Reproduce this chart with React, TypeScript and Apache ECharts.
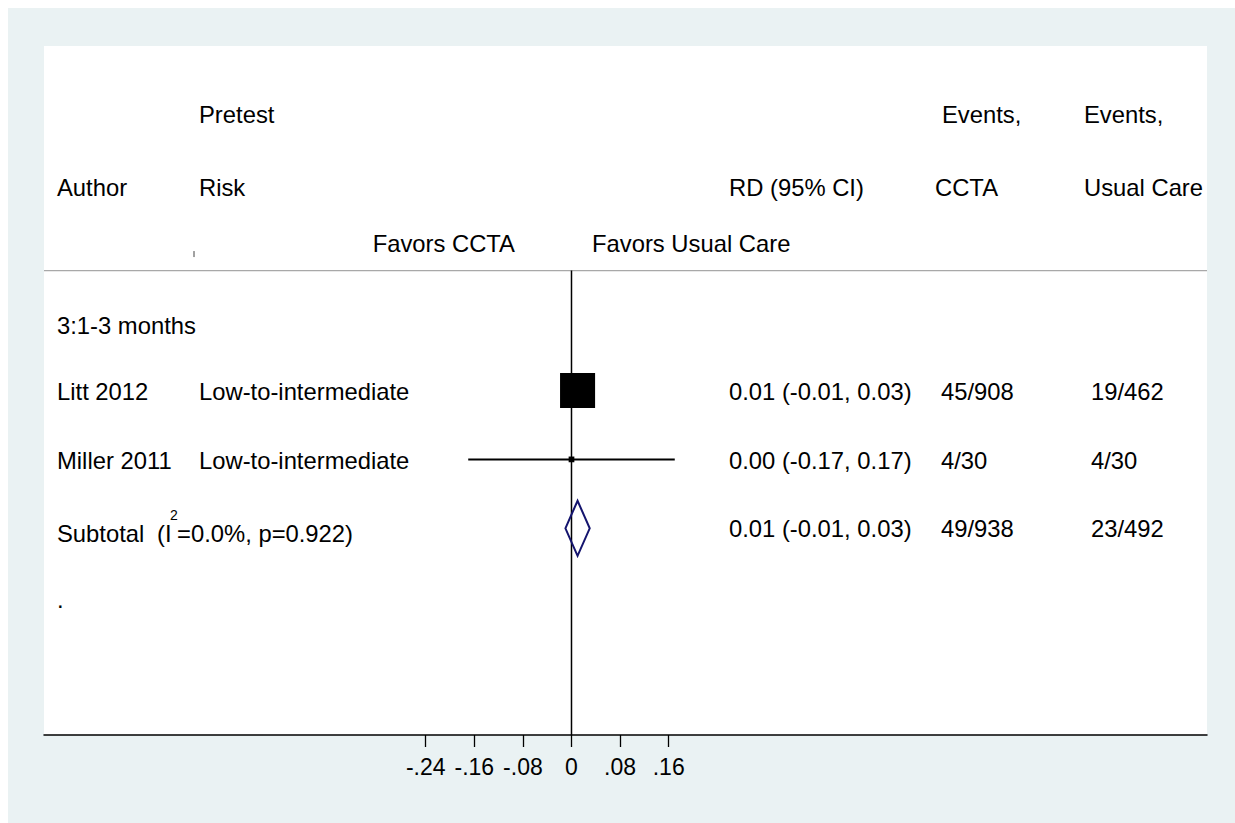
import React, { useEffect, useRef } from 'react';
import * as echarts from 'echarts';

// Study-level data
const studyAuthors = ['Litt 2012', 'Miller 2011'];
const studyRisk = ['Low-to-intermediate', 'Low-to-intermediate'];
const studyRd = [0.01, 0.0];
const studyLow = [-0.01, -0.17];
const studyHigh = [0.03, 0.17];
const studyWeight = [97.4, 2.6];
const eventsCcta = ['45/908', '4/30'];
const eventsCare = ['19/462', '4/30'];

// Pooled estimate for the subgroup
const subtotalRd = 0.01;
const subtotalLow = -0.01;
const subtotalHigh = 0.03;
const subtotalCcta = '49/938';
const subtotalCare = '23/492';
const subtotalLabel = ['Subtotal', '(I', '2', '=0.0%, p=0.922)'];

const sectionLabel = '3:1-3 months';
const headerTop = ['Pretest', 'Events,', 'Events,'];
const headerBottom = ['Author', 'Risk', 'RD (95% CI)', 'CCTA', 'Usual Care'];
const favorsLabels = ['Favors CCTA', 'Favors Usual Care'];
const tickValues = [-0.24, -0.16, -0.08, 0, 0.08, 0.16];

// Layout: rows in row units (y axis runs 0..10 downward)
const X_MIN = -0.8683;
const X_MAX = 1.0461;
const Y_MAX = 10;
const ROW_HEAD1 = 0.99;
const ROW_HEAD2 = 2.05;
const ROW_FAVORS = 2.86;
const ROW_RULE = 3.26;
const ROW_SECTION = 4.05;
const ROW_FIRST_STUDY = 5;
const ROW_SUBTOTAL = 7;
const ROW_DOT = 8.03;
const TEXT_NUDGE = 0.02;

const FONT = '"Liberation Sans", Arial, Helvetica, sans-serif';
const FONT_SIZE = 23.8;
const TICK_FONT_SIZE = 23;

// Column anchors in pixels
const COL_AUTHOR = 49;
const COL_RISK = 191;
const COL_RD = 721;
const COL_CCTA = 933;
const COL_CCTA_HEAD = 927;
const COL_CARE = 1083;
const COL_CARE_HEAD = 1076;
const COL_I2 = 149;
const FAVORS_LEFT_END = 507;
const FAVORS_RIGHT_START = 584;

const fmt = (v: number) => v.toFixed(2);
const rdText = (rd: number, lo: number, hi: number) => `${fmt(rd)} (${fmt(lo)}, ${fmt(hi)})`;
const tickText = (v: number) => {
  if (Math.abs(v) < 1e-9) return '0';
  const s = Math.abs(v).toFixed(2).replace(/^0/, '');
  return (v < 0 ? '-' : '') + s;
};

function txt(text: string, x: number, y: number, align: string = 'left', extra: any = {}) {
  return {
    type: 'text',
    x,
    y,
    silent: true,
    style: {
      text,
      fill: '#000',
      fontSize: FONT_SIZE,
      fontFamily: FONT,
      align,
      verticalAlign: 'middle',
      ...extra,
    },
  };
}

export default function App() {
  const ref = useRef<HTMLDivElement>(null);

  useEffect(() => {
    if (!ref.current) return;
    const chart = echarts.init(ref.current, null, { renderer: 'svg' });

    const studyRows = studyAuthors.map((_, i) => ROW_FIRST_STUDY + i);

    chart.setOption({
      animation: false,
      backgroundColor: '#EAF2F3',
      grid: {
        left: 36,
        right: 28,
        top: 38,
        bottom: 88,
        show: true,
        backgroundColor: '#ffffff',
        borderWidth: 0,
        outerBoundsMode: 'none',
      },
      xAxis: {
        type: 'value',
        min: X_MIN,
        max: X_MAX,
        position: 'bottom',
        splitLine: { show: false },
        axisLine: { show: true, onZero: false, lineStyle: { color: '#000', width: 1.5 } },
        axisTick: {
          show: true,
          customValues: tickValues,
          length: 12,
          lineStyle: { color: '#000', width: 1.3 },
        },
        axisLabel: {
          customValues: tickValues,
          formatter: (v: number) => tickText(v),
          fontSize: TICK_FONT_SIZE,
          fontFamily: FONT,
          color: '#000',
          margin: 20,
        },
      },
      yAxis: { type: 'value', min: 0, max: Y_MAX, inverse: true, show: false },
      series: [
        {
          type: 'line',
          silent: true,
          symbol: 'none',
          data: [
            [X_MIN, ROW_RULE],
            [X_MAX, ROW_RULE],
          ],
          lineStyle: { color: '#a8a8a8', width: 1.2 },
          z: 1,
        },
        {
          type: 'line',
          silent: true,
          symbol: 'none',
          data: [
            [0, ROW_RULE],
            [0, Y_MAX],
          ],
          lineStyle: { color: '#000', width: 1.5 },
          z: 2,
        },
        {
          type: 'custom',
          silent: true,
          z: 3,
          encode: { x: [0, 1], y: 2 },
          data: studyRows.map((r, i) => [studyLow[i], studyHigh[i], r]),
          renderItem: (_params: any, api: any) => {
            const p1 = api.coord([api.value(0), api.value(2)]);
            const p2 = api.coord([api.value(1), api.value(2)]);
            return {
              type: 'line',
              shape: { x1: p1[0], y1: p1[1], x2: p2[0], y2: p2[1] },
              style: { stroke: '#000', lineWidth: 2 },
            };
          },
        },
        {
          type: 'scatter',
          silent: true,
          z: 4,
          symbol: 'rect',
          symbolSize: (v: number[]) => Math.sqrt(v[2]) * 3.55,
          itemStyle: { color: '#000', opacity: 1 },
          data: studyRows.map((r, i) => [studyRd[i], r, studyWeight[i]]),
        },
        {
          type: 'custom',
          silent: true,
          z: 5,
          encode: { x: [0, 1, 2], y: 3 },
          data: [[subtotalLow, subtotalRd, subtotalHigh, ROW_SUBTOTAL]],
          renderItem: (_params: any, api: any) => {
            const row = api.value(3);
            const left = api.coord([api.value(0), row]);
            const top = api.coord([api.value(1), row - 0.4]);
            const right = api.coord([api.value(2), row]);
            const bottom = api.coord([api.value(1), row + 0.4]);
            return {
              type: 'polygon',
              shape: { points: [left, top, right, bottom] },
              style: { fill: 'none', stroke: '#14146e', lineWidth: 2 },
            };
          },
        },
      ],
    });

    const yPix = (row: number) => chart.convertToPixel({ yAxisIndex: 0 }, row) as number;

    const g: any[] = [];
    // Header lines
    const h1 = yPix(ROW_HEAD1);
    g.push(txt(headerTop[0], COL_RISK, h1));
    g.push(txt(headerTop[1], COL_CCTA_HEAD + 7, h1));
    g.push(txt(headerTop[2], COL_CARE_HEAD, h1));
    const h2 = yPix(ROW_HEAD2);
    g.push(txt(headerBottom[0], COL_AUTHOR, h2));
    g.push(txt(headerBottom[1], COL_RISK, h2));
    g.push(txt(headerBottom[2], COL_RD, h2));
    g.push(txt(headerBottom[3], COL_CCTA_HEAD, h2));
    g.push(txt(headerBottom[4], COL_CARE_HEAD, h2));
    const hf = yPix(ROW_FAVORS);
    g.push(txt(favorsLabels[0], FAVORS_LEFT_END, hf, 'right'));
    g.push(txt(favorsLabels[1], FAVORS_RIGHT_START, hf));
    g.push({
      type: 'line',
      silent: true,
      shape: { x1: 186, y1: hf + 8, x2: 186, y2: hf + 14 },
      style: { stroke: '#444', lineWidth: 1 },
    });

    // Subgroup heading
    g.push(txt(sectionLabel, COL_AUTHOR, yPix(ROW_SECTION)));

    // Study rows
    studyRows.forEach((r, i) => {
      const y = yPix(r + TEXT_NUDGE);
      g.push(txt(studyAuthors[i], COL_AUTHOR, y));
      g.push(txt(studyRisk[i], COL_RISK, y));
      g.push(txt(rdText(studyRd[i], studyLow[i], studyHigh[i]), COL_RD, y));
      g.push(txt(eventsCcta[i], COL_CCTA, y));
      g.push(txt(eventsCare[i], COL_CARE, y));
    });

    // Subtotal row with superscript
    const ys = yPix(ROW_SUBTOTAL + 0.08);
    const canvas = document.createElement('canvas');
    const ctx = canvas.getContext('2d');
    let w = 14.5;
    if (ctx) {
      ctx.font = `${FONT_SIZE}px ${FONT}`;
      w = ctx.measureText(subtotalLabel[1]).width;
    }
    g.push(txt(subtotalLabel[0], COL_AUTHOR, ys));
    g.push(txt(subtotalLabel[1], COL_I2, ys));
    g.push(txt(subtotalLabel[2], COL_I2 + w - 1.5, ys - 19, 'left', { fontSize: 14 }));
    g.push(txt(subtotalLabel[3], COL_I2 + w + 5.5, ys));
    g.push(txt(rdText(subtotalRd, subtotalLow, subtotalHigh), COL_RD, ys - 5));
    g.push(txt(subtotalCcta, COL_CCTA, ys - 5));
    g.push(txt(subtotalCare, COL_CARE, ys - 5));

    // Trailing spacer row
    g.push(txt('.', COL_AUTHOR, yPix(ROW_DOT)));

    chart.setOption({ graphic: { elements: g } });

    return () => chart.dispose();
  }, []);

  return (
    <div
      ref={ref}
      style={{ position: 'fixed', left: 8, top: 8, width: 1227, height: 815 }}
    />
  );
}
